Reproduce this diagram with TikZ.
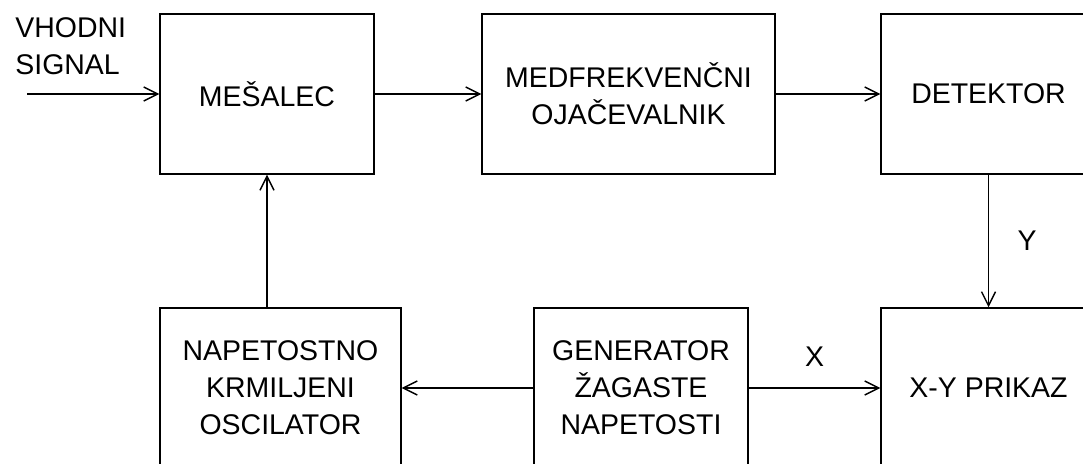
\documentclass[tikz,border=0pt]{standalone}
\usepackage{fontspec}
\setmainfont{Liberation Sans}
\usetikzlibrary{arrows.meta}
\begin{document}
\begin{tikzpicture}[
  blok/.style={draw,line width=0.8pt,minimum height=3.2cm,align=center,inner sep=0pt},
  puscica/.style={draw,line width=0.8pt,-{Straight Barb[length=8pt,width=8pt]}},
  font=\fontsize{16.2pt}{21pt}\selectfont]
\clip (0,0) rectangle (21.66,9.28);
% zgornja vrsta
\node at (5.34,7.4) [blok,minimum width=4.28cm](mesalec){MEŠALEC};
\node at (12.57,7.4) [blok,minimum width=5.86cm](medfrek){MEDFREKVENČNI\\OJAČEVALNIK};
\node at (19.77,7.4) [blok,minimum width=4.3cm](detektor){DETEKTOR};
% spodnja vrsta
\node at (5.61,1.52) [blok,minimum width=4.82cm](vco){NAPETOSTNO\\KRMILJENI\\OSCILATOR};
\node at (12.82,1.52) [blok,minimum width=4.28cm](generator){GENERATOR\\ŽAGASTE\\NAPETOSTI};
\node at (19.77,1.52) [blok,minimum width=4.3cm](prikaz){X-Y PRIKAZ};
% vhod
\node at (0.3,8.36) [anchor=west,align=left,inner sep=0pt](vhod){VHODNI\\SIGNAL};
\coordinate (vzacetek) at (0.54,7.4);
% povezave
\draw[puscica] (vzacetek) -- (mesalec);
\draw[puscica] (mesalec) -- (medfrek);
\draw[puscica] (medfrek) -- (detektor);
\draw[puscica] (detektor) -- node[right=0.45cm]{Y} (prikaz);
\draw[puscica] (generator) -- node[above=0.3cm]{X} (prikaz);
\draw[puscica] (generator) -- (vco);
\draw[puscica] (mesalec.south |- vco.north) -- (mesalec.south);
\end{tikzpicture}
\end{document}
